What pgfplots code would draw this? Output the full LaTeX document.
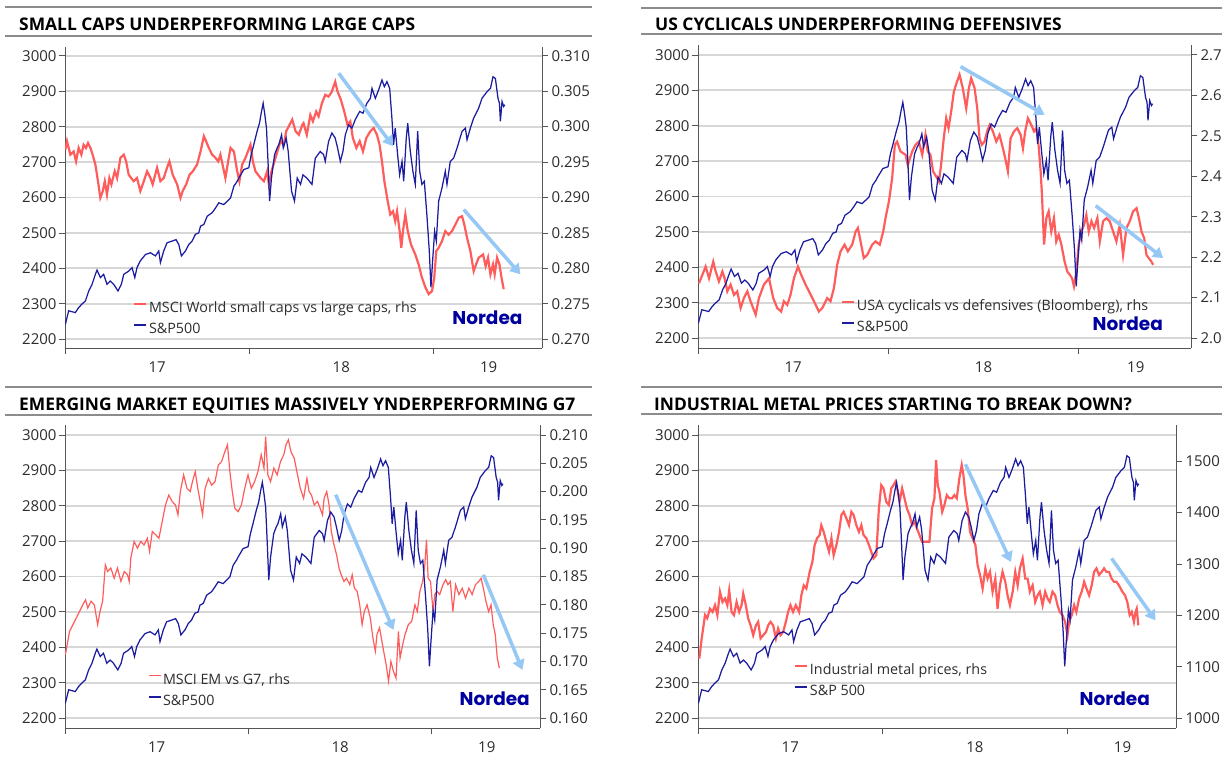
\documentclass[border=0pt]{standalone}
\usepackage{fontspec}
\setmainfont{Open Sans}
\newfontfamily\titlefont{Open Sans}
\newfontfamily\logofont{Poppins}
\usepackage{pgfplots}
\usepackage{pgfplotstable}
\pgfplotsset{compat=1.18}
\usetikzlibrary{arrows.meta}

\definecolor{spblue}{RGB}{28,28,160}
\definecolor{ratiored}{RGB}{255,92,92}
\definecolor{arrowblue}{RGB}{150,200,245}
\definecolor{gridgray}{RGB}{215,215,215}
\definecolor{axgray}{RGB}{85,85,85}
\definecolor{txtgray}{RGB}{45,45,45}
\definecolor{rulegray}{RGB}{140,140,140}
\definecolor{nordeablue}{RGB}{0,0,160}

% S&P 500 (shared by all panels)
\pgfplotstableread{
t v
2017.002 2242
2017.020 2280
2017.056 2275
2017.074 2289
2017.092 2299
2017.111 2308
2017.129 2336
2017.147 2355
2017.165 2383
2017.174 2395
2017.192 2374
2017.210 2383
2017.228 2355
2017.246 2364
2017.264 2355
2017.288 2336
2017.306 2355
2017.319 2383
2017.346 2392
2017.364 2402
2017.379 2374
2017.391 2402
2017.409 2421
2017.437 2439
2017.464 2444
2017.491 2435
2017.509 2449
2017.518 2416
2017.536 2449
2017.554 2472
2017.582 2477
2017.603 2481
2017.618 2467
2017.632 2435
2017.654 2449
2017.672 2467
2017.690 2477
2017.708 2496
2017.726 2500
2017.736 2519
2017.754 2524
2017.772 2547
2017.799 2557
2017.817 2570
2017.835 2585
2017.862 2580
2017.880 2589
2017.899 2599
2017.917 2632
2017.935 2646
2017.944 2655
2017.971 2679
2017.998 2684
2018.011 2721
2018.025 2749
2018.043 2787
2018.056 2810
2018.067 2843
2018.076 2866
2018.085 2834
2018.094 2796
2018.103 2693
2018.111 2590
2018.121 2655
2018.138 2721
2018.152 2740
2018.161 2749
2018.176 2777
2018.185 2740
2018.201 2768
2018.212 2730
2018.230 2618
2018.246 2590
2018.261 2655
2018.279 2637
2018.292 2664
2018.313 2655
2018.341 2637
2018.359 2711
2018.386 2730
2018.404 2721
2018.413 2702
2018.431 2758
2018.449 2782
2018.467 2768
2018.480 2740
2018.495 2702
2018.509 2730
2018.522 2777
2018.540 2805
2018.558 2796
2018.576 2820
2018.600 2843
2018.618 2838
2018.639 2866
2018.658 2880
2018.667 2908
2018.685 2880
2018.703 2904
2018.721 2932
2018.734 2913
2018.748 2927
2018.763 2908
2018.775 2824
2018.784 2749
2018.793 2796
2018.806 2721
2018.817 2664
2018.830 2702
2018.839 2646
2018.853 2768
2018.861 2810
2018.875 2730
2018.889 2674
2018.902 2637
2018.915 2787
2018.926 2674
2018.938 2637
2018.951 2646
2018.966 2543
2018.978 2449
2018.987 2346
2018.996 2421
2019.007 2505
2019.016 2477
2019.029 2590
2019.047 2627
2019.065 2674
2019.074 2637
2019.092 2702
2019.110 2711
2019.129 2740
2019.156 2787
2019.174 2796
2019.183 2763
2019.201 2796
2019.219 2824
2019.246 2852
2019.264 2880
2019.292 2899
2019.310 2908
2019.324 2941
2019.337 2936
2019.351 2880
2019.359 2866
2019.364 2815
2019.373 2871
2019.382 2857
2019.388 2862
}\spx

% MSCI World small caps vs large caps (rhs)
\pgfplotstableread{
t r
2017.002 0.29675
2017.011 0.29795
2017.029 0.29605
2017.047 0.29650
2017.060 0.29510
2017.074 0.29700
2017.089 0.29605
2017.101 0.29745
2017.114 0.29700
2017.125 0.29770
2017.138 0.29700
2017.150 0.29605
2017.165 0.29465
2017.179 0.29230
2017.192 0.28995
2017.205 0.29090
2017.216 0.29230
2017.228 0.29040
2017.241 0.29275
2017.252 0.29185
2017.270 0.29370
2017.283 0.29275
2017.301 0.29560
2017.319 0.29605
2017.332 0.29510
2017.346 0.29320
2017.373 0.29230
2017.391 0.29275
2017.409 0.29090
2017.428 0.29230
2017.446 0.29370
2017.464 0.29275
2017.476 0.29185
2017.500 0.29420
2017.518 0.29230
2017.536 0.29275
2017.554 0.29420
2017.567 0.29510
2017.585 0.29320
2017.609 0.29185
2017.627 0.28995
2017.639 0.29090
2017.658 0.29185
2017.676 0.29320
2017.694 0.29370
2017.717 0.29465
2017.736 0.29650
2017.754 0.29865
2017.766 0.29795
2017.781 0.29700
2017.799 0.29605
2017.817 0.29560
2017.832 0.29510
2017.844 0.29605
2017.871 0.29275
2017.889 0.29560
2017.899 0.29700
2017.917 0.29650
2017.935 0.29370
2017.947 0.29230
2017.962 0.29465
2017.980 0.29560
2018.007 0.29745
2018.020 0.29510
2018.034 0.29370
2018.062 0.29275
2018.080 0.29230
2018.098 0.29370
2018.107 0.29185
2018.121 0.29370
2018.143 0.29560
2018.170 0.29795
2018.188 0.29745
2018.201 0.29935
2018.219 0.30025
2018.234 0.30100
2018.252 0.29935
2018.270 0.29885
2018.288 0.30025
2018.295 0.30050
2018.313 0.29885
2018.332 0.30165
2018.346 0.30075
2018.364 0.30215
2018.377 0.30145
2018.395 0.30330
2018.413 0.30450
2018.431 0.30425
2018.449 0.30495
2018.467 0.30635
2018.480 0.30495
2018.498 0.30380
2018.516 0.30215
2018.534 0.30025
2018.549 0.30075
2018.563 0.29840
2018.582 0.29700
2018.600 0.29795
2018.618 0.29650
2018.636 0.29840
2018.658 0.29935
2018.676 0.29980
2018.694 0.29885
2018.708 0.29745
2018.721 0.29510
2018.734 0.29230
2018.752 0.28950
2018.766 0.28760
2018.781 0.28805
2018.793 0.28665
2018.803 0.28805
2018.817 0.28525
2018.826 0.28290
2018.835 0.28525
2018.848 0.28760
2018.861 0.28525
2018.879 0.28335
2018.902 0.28195
2018.920 0.28055
2018.938 0.27870
2018.957 0.27730
2018.975 0.27635
2018.993 0.27680
2019.005 0.27870
2019.016 0.28245
2019.029 0.28290
2019.047 0.28385
2019.065 0.28525
2019.083 0.28475
2019.101 0.28525
2019.120 0.28620
2019.138 0.28715
2019.156 0.28735
2019.168 0.28620
2019.183 0.28430
2019.201 0.28245
2019.219 0.27960
2019.232 0.28055
2019.246 0.28150
2019.270 0.28195
2019.284 0.28030
2019.297 0.28150
2019.310 0.27915
2019.324 0.28055
2019.333 0.27915
2019.346 0.28150
2019.359 0.28055
2019.370 0.27870
2019.382 0.27705
}\tlred

% USA cyclicals vs defensives (rhs)
\pgfplotstableread{
t r
2017.005 2.1356
2017.023 2.1566
2017.040 2.1768
2017.058 2.1479
2017.080 2.1890
2017.093 2.1645
2017.110 2.1400
2017.128 2.1645
2017.140 2.1479
2017.154 2.1155
2017.171 2.1321
2017.189 2.1068
2017.206 2.1155
2017.224 2.0744
2017.241 2.0989
2017.259 2.1155
2017.276 2.0910
2017.303 2.0578
2017.320 2.0989
2017.346 2.1321
2017.373 2.1479
2017.395 2.0989
2017.416 2.0744
2017.437 2.0656
2017.451 2.0910
2017.469 2.0823
2017.486 2.1068
2017.504 2.1479
2017.525 2.1768
2017.542 2.1566
2017.565 2.1321
2017.583 2.1155
2017.609 2.0910
2017.635 2.0656
2017.653 2.0744
2017.679 2.0989
2017.696 2.0910
2017.714 2.1234
2017.731 2.1811
2017.749 2.2144
2017.770 2.2310
2017.787 2.2144
2017.810 2.2310
2017.828 2.2634
2017.840 2.2721
2017.854 2.2389
2017.871 2.1978
2017.889 2.2056
2017.915 2.2310
2017.933 2.2389
2017.955 2.2310
2017.973 2.2634
2017.985 2.2966
2018.003 2.3378
2018.020 2.3955
2018.034 2.4778
2018.046 2.4856
2018.064 2.4611
2018.090 2.4533
2018.102 2.4279
2018.125 2.4611
2018.143 2.4778
2018.160 2.4856
2018.178 2.4533
2018.195 2.5023
2018.207 2.4611
2018.221 2.4533
2018.235 2.4121
2018.256 2.3955
2018.266 2.3868
2018.277 2.4279
2018.291 2.4935
2018.304 2.5434
2018.316 2.5189
2018.330 2.5600
2018.344 2.6090
2018.361 2.6344
2018.374 2.6510
2018.391 2.6178
2018.409 2.5679
2018.423 2.6178
2018.435 2.6423
2018.453 2.6178
2018.467 2.5679
2018.479 2.4935
2018.491 2.4778
2018.505 2.4856
2018.519 2.5110
2018.532 2.5268
2018.549 2.5110
2018.567 2.4856
2018.584 2.5023
2018.602 2.4690
2018.614 2.4445
2018.628 2.4121
2018.642 2.4935
2018.660 2.5110
2018.677 2.5189
2018.695 2.5023
2018.707 2.4690
2018.719 2.5110
2018.733 2.5434
2018.751 2.5268
2018.765 2.5110
2018.777 2.5189
2018.789 2.4778
2018.800 2.4121
2018.807 2.3544
2018.818 2.2310
2018.830 2.2966
2018.842 2.3133
2018.856 2.2634
2018.870 2.2966
2018.882 2.2389
2018.895 2.2555
2018.909 2.2310
2018.926 2.1890
2018.940 2.1645
2018.953 2.1566
2018.965 2.1479
2018.975 2.1278
2018.988 2.1645
2019.000 2.2310
2019.014 2.2634
2019.028 2.2800
2019.040 2.3045
2019.053 2.2634
2019.067 2.2888
2019.081 2.2721
2019.098 2.2966
2019.111 2.2389
2019.128 2.2888
2019.146 2.2966
2019.163 2.2888
2019.181 2.2634
2019.198 2.2389
2019.216 2.2800
2019.233 2.2056
2019.251 2.2721
2019.268 2.2888
2019.286 2.3133
2019.304 2.3211
2019.316 2.2966
2019.330 2.2634
2019.344 2.2468
2019.356 2.2056
2019.368 2.1978
2019.382 2.1890
2019.391 2.1811
}\trred

% MSCI EM vs G7 (rhs)
\pgfplotstableread{
t r
2017.002 0.17119
2017.025 0.17531
2017.043 0.17650
2017.061 0.17763
2017.079 0.17881
2017.097 0.18000
2017.112 0.18088
2017.124 0.17944
2017.142 0.18063
2017.160 0.18000
2017.178 0.17650
2017.191 0.17881
2017.205 0.18063
2017.220 0.18706
2017.232 0.18588
2017.250 0.18650
2017.268 0.18469
2017.286 0.18650
2017.305 0.18413
2017.323 0.18588
2017.341 0.18531
2017.350 0.18413
2017.359 0.18825
2017.377 0.19119
2017.395 0.19000
2017.413 0.19119
2017.431 0.19056
2017.449 0.19175
2017.461 0.18944
2017.476 0.19294
2017.494 0.19238
2017.512 0.19175
2017.530 0.19469
2017.548 0.19763
2017.566 0.19938
2017.584 0.19825
2017.602 0.19763
2017.616 0.19588
2017.629 0.20000
2017.647 0.20294
2017.665 0.20056
2017.683 0.20000
2017.695 0.20175
2017.710 0.20350
2017.724 0.20056
2017.737 0.19825
2017.750 0.19588
2017.764 0.20056
2017.782 0.20231
2017.800 0.20113
2017.818 0.20175
2017.836 0.20469
2017.854 0.20531
2017.872 0.20706
2017.886 0.20825
2017.899 0.20350
2017.912 0.20000
2017.926 0.19706
2017.944 0.19644
2017.962 0.19763
2017.980 0.20056
2017.998 0.20294
2018.016 0.20056
2018.034 0.20175
2018.052 0.20350
2018.070 0.20650
2018.085 0.20413
2018.094 0.20969
2018.106 0.20294
2018.121 0.20175
2018.139 0.20413
2018.157 0.20294
2018.175 0.20531
2018.193 0.20650
2018.205 0.20825
2018.218 0.20913
2018.232 0.20706
2018.250 0.20588
2018.268 0.20294
2018.283 0.20056
2018.301 0.19881
2018.319 0.20231
2018.331 0.20000
2018.344 0.19938
2018.359 0.19763
2018.377 0.19825
2018.391 0.19706
2018.404 0.19588
2018.413 0.19881
2018.427 0.20000
2018.440 0.19763
2018.452 0.19294
2018.467 0.19056
2018.481 0.18881
2018.494 0.18650
2018.506 0.18531
2018.521 0.18413
2018.535 0.18469
2018.553 0.18356
2018.566 0.18531
2018.578 0.18294
2018.593 0.18238
2018.607 0.18000
2018.620 0.17650
2018.632 0.17881
2018.647 0.18000
2018.665 0.17763
2018.679 0.17413
2018.692 0.17181
2018.701 0.17475
2018.715 0.17594
2018.728 0.17356
2018.741 0.17119
2018.751 0.16944
2018.764 0.16650
2018.777 0.17000
2018.791 0.16825
2018.805 0.16706
2018.818 0.17531
2018.827 0.17063
2018.841 0.17294
2018.854 0.17475
2018.872 0.17650
2018.890 0.17706
2018.908 0.18000
2018.921 0.17881
2018.935 0.18238
2018.950 0.18413
2018.962 0.18706
2018.971 0.19150
2018.980 0.18469
2018.993 0.18413
2019.007 0.17881
2019.016 0.18181
2019.029 0.18238
2019.043 0.18181
2019.061 0.18356
2019.076 0.18444
2019.088 0.18356
2019.101 0.18413
2019.115 0.17881
2019.130 0.18356
2019.148 0.18181
2019.166 0.18294
2019.184 0.18119
2019.202 0.18294
2019.220 0.18181
2019.238 0.18356
2019.256 0.18413
2019.269 0.18469
2019.281 0.18294
2019.295 0.18063
2019.310 0.17881
2019.323 0.18000
2019.335 0.17650
2019.346 0.17475
2019.357 0.17063
2019.368 0.16881
}\blred

% Industrial metal prices (rhs)
\pgfplotstableread{
t r
2017.007 1115.7
2017.020 1155.0
2017.038 1200.4
2017.050 1194.2
2017.065 1212.8
2017.079 1206.6
2017.092 1219.7
2017.105 1200.4
2017.119 1245.9
2017.133 1225.9
2017.146 1232.8
2017.159 1219.7
2017.169 1248.6
2017.182 1206.6
2017.195 1200.4
2017.209 1225.9
2017.223 1206.6
2017.236 1219.7
2017.245 1242.4
2017.259 1219.7
2017.272 1193.5
2017.285 1180.5
2017.299 1161.2
2017.314 1180.5
2017.326 1187.3
2017.339 1155.0
2017.353 1161.2
2017.368 1167.4
2017.380 1180.5
2017.393 1187.3
2017.407 1180.5
2017.422 1155.0
2017.434 1174.3
2017.447 1161.2
2017.461 1167.4
2017.476 1187.3
2017.488 1206.6
2017.501 1219.7
2017.515 1206.6
2017.530 1219.7
2017.548 1206.6
2017.560 1239.0
2017.573 1258.3
2017.587 1252.1
2017.605 1284.5
2017.620 1304.4
2017.632 1336.8
2017.645 1349.9
2017.659 1356.1
2017.668 1375.4
2017.681 1362.3
2017.695 1343.0
2017.710 1323.7
2017.723 1349.9
2017.735 1316.8
2017.750 1336.8
2017.764 1362.3
2017.777 1395.3
2017.789 1401.5
2017.804 1388.5
2017.818 1375.4
2017.831 1401.5
2017.843 1395.3
2017.858 1375.4
2017.872 1362.3
2017.885 1375.4
2017.897 1356.1
2017.912 1349.9
2017.926 1336.8
2017.939 1323.7
2017.951 1310.6
2017.966 1316.8
2017.980 1407.7
2017.993 1453.2
2018.005 1447.0
2018.020 1420.8
2018.034 1414.6
2018.047 1447.0
2018.059 1453.2
2018.070 1460.1
2018.083 1440.8
2018.092 1420.8
2018.106 1447.0
2018.119 1427.7
2018.132 1407.7
2018.146 1395.3
2018.160 1375.4
2018.173 1382.3
2018.186 1369.2
2018.200 1356.1
2018.214 1343.0
2018.227 1343.0
2018.240 1343.0
2018.254 1343.0
2018.268 1407.7
2018.281 1427.7
2018.290 1502.1
2018.299 1453.2
2018.308 1440.8
2018.323 1401.5
2018.335 1414.6
2018.348 1433.9
2018.362 1427.7
2018.377 1427.7
2018.389 1433.9
2018.402 1427.7
2018.416 1466.3
2018.429 1492.5
2018.438 1473.2
2018.449 1433.9
2018.461 1407.7
2018.474 1362.3
2018.488 1349.9
2018.503 1336.8
2018.515 1297.5
2018.528 1278.3
2018.542 1252.1
2018.557 1291.3
2018.569 1271.4
2018.582 1284.5
2018.596 1245.9
2018.611 1271.4
2018.623 1212.8
2018.636 1258.3
2018.650 1284.5
2018.665 1265.2
2018.677 1239.0
2018.690 1219.7
2018.705 1245.9
2018.719 1284.5
2018.732 1258.3
2018.744 1291.3
2018.759 1310.6
2018.773 1271.4
2018.786 1271.4
2018.798 1245.9
2018.813 1258.3
2018.827 1225.9
2018.840 1239.0
2018.852 1245.9
2018.867 1219.7
2018.881 1245.9
2018.894 1232.8
2018.906 1225.9
2018.921 1245.9
2018.935 1239.0
2018.948 1219.7
2018.960 1206.6
2018.975 1200.4
2018.989 1187.3
2019.002 1161.2
2019.011 1187.3
2019.025 1200.4
2019.038 1219.7
2019.050 1206.6
2019.065 1232.8
2019.079 1245.9
2019.092 1265.2
2019.105 1252.1
2019.119 1239.0
2019.133 1258.3
2019.146 1284.5
2019.159 1291.3
2019.173 1278.3
2019.187 1284.5
2019.200 1291.3
2019.213 1284.5
2019.227 1284.5
2019.241 1271.4
2019.254 1265.2
2019.267 1265.2
2019.281 1258.3
2019.299 1245.9
2019.314 1239.0
2019.326 1225.9
2019.339 1200.4
2019.350 1206.6
2019.362 1187.3
2019.371 1206.6
2019.377 1212.8
2019.386 1180.5
}\brred

\tikzset{trend/.style={draw=arrowblue, line width=3.5pt,
    -{Triangle[length=10pt,width=12pt]}}}

\pgfplotsset{
  base/.style={
    scale only axis, xmin=2017, xmax=2019.59,
    /pgf/number format/assume math mode=true,
    /pgf/number format/1000 sep={},
    tick label style={font=\fontsize{15}{17}\selectfont, text=txtgray},
    tick align=outside, major tick length=6pt,
    tick style={axgray, line width=0.8pt},
    axis line style={axgray, line width=0.9pt},
    minor tick num=0,
  },
  leftax/.style={base,
    axis x line*=bottom, axis y line*=left,
    ytick={2200,2300,2400,2500,2600,2700,2800,2900,3000},
    ymajorgrids, grid style={gridgray, line width=1.8pt},
    xtick={2017,2018,2019}, xticklabels={,,},
    extra x ticks={2017.5,2018.5,2019.3},
    extra x tick labels={17,18,19},
    extra x tick style={major tick length=0pt, grid=none},
    xticklabel style={yshift=-10pt},
    yticklabel style={xshift=1pt},
  },
  rightax/.style={base,
    axis y line*=right, axis x line=none,
  },
  overax/.style={base, hide axis,
    legend style={draw=none, fill=none, anchor=north west,
      font=\fontsize{14.3}{16}\selectfont, text=txtgray,
      inner sep=0pt, row sep=5pt,
      nodes={inner sep=1.6pt, text height=10pt, text depth=3pt}},
    legend cell align=left,
    legend image code/.code={\draw[##1] (0pt,5pt) -- (12pt,5pt);},
  },
}

\begin{document}
\begin{tikzpicture}
\useasboundingbox (0,0) rectangle (1222pt,760pt);

% ---------- titles and rules ----------
\draw[rulegray, line width=1.2pt] (5pt,753pt) -- (592pt,753pt);
\draw[rulegray, line width=1.2pt] (5pt,724pt) -- (592pt,724pt);
\node[anchor=base west, inner sep=0pt, text=black, font=\titlefont\bfseries\fontsize{17.4}{20}\selectfont] at (19pt,729pt) {SMALL CAPS UNDERPERFORMING LARGE CAPS};

\draw[rulegray, line width=1.2pt] (641pt,752pt) -- (1222pt,752pt);
\draw[rulegray, line width=1.2pt] (641pt,726pt) -- (1222pt,726pt);
\node[anchor=base west, inner sep=0pt, text=black, font=\titlefont\bfseries\fontsize{17.4}{20}\selectfont] at (655pt,729pt) {US CYCLICALS UNDERPERFORMING DEFENSIVES};

\draw[rulegray, line width=1.2pt] (5pt,373pt) -- (592pt,373pt);
\draw[rulegray, line width=1.2pt] (5pt,345pt) -- (592pt,345pt);
\node[anchor=base west, inner sep=0pt, text=black, font=\titlefont\bfseries\fontsize{17.4}{20}\selectfont] at (19pt,349pt) {EMERGING MARKET EQUITIES MASSIVELY YNDERPERFORMING G7};

\draw[rulegray, line width=1.2pt] (641pt,373pt) -- (1222pt,373pt);
\draw[rulegray, line width=1.2pt] (641pt,346pt) -- (1222pt,346pt);
\node[anchor=base west, inner sep=0pt, text=black, font=\titlefont\bfseries\fontsize{17.4}{20}\selectfont] at (654pt,349pt) {INDUSTRIAL METAL PRICES STARTING TO BREAK DOWN?};

% ================= TOP LEFT =================
\begin{axis}[leftax, at={(65pt,412pt)}, anchor=south west, width=477pt, height=301pt, ymin=2175, ymax=3025]
\end{axis}
\begin{axis}[rightax, at={(65pt,412pt)}, anchor=south west, width=477pt, height=301pt, ymin=0.26875, ymax=0.31125,
  ytick={0.270,0.275,0.280,0.285,0.290,0.295,0.300,0.305,0.310},
  yticklabel style={/pgf/number format/fixed, /pgf/number format/fixed zerofill, /pgf/number format/precision=3}]
\addplot[ratiored, line width=2.2pt] table[x=t, y=r] {\tlred};
\end{axis}
\begin{axis}[overax, at={(65pt,412pt)}, anchor=south west, width=477pt, height=301pt, ymin=2175, ymax=3025,
  legend style={at={(axis description cs:0.1426,0.158)}}]
\addlegendimage{ratiored, line width=2.2pt}
\addlegendentry{MSCI World small caps vs large caps, rhs}
\addplot[spblue, line width=1.25pt] table[x=t, y=v] {\spx};
\addlegendentry{S\&P500}
\draw[trend] (axis cs:2018.486,2951) -- (axis cs:2018.781,2745);
\draw[trend] (axis cs:2019.165,2566) -- (axis cs:2019.473,2383);
\node[anchor=base east, inner sep=0pt, text=nordeablue, font=\logofont\bfseries\fontsize{18.5}{20}\selectfont] at (rel axis cs:0.9595,0.0764) {Nordea};
\end{axis}

% ================= TOP RIGHT =================
\begin{axis}[leftax, at={(698pt,412pt)}, anchor=south west, width=493pt, height=303pt, ymin=2172, ymax=3028]
\end{axis}
\begin{axis}[rightax, at={(698pt,412pt)}, anchor=south west, width=493pt, height=303pt, ymin=1.9755, ymax=2.7245,
  ytick={2.0,2.1,2.2,2.3,2.4,2.5,2.6,2.7},
  yticklabel style={/pgf/number format/fixed, /pgf/number format/fixed zerofill, /pgf/number format/precision=1}]
\addplot[ratiored, line width=2.2pt] table[x=t, y=r] {\trred};
\end{axis}
\begin{axis}[overax, at={(698pt,412pt)}, anchor=south west, width=493pt, height=303pt, ymin=2172, ymax=3028,
  legend style={at={(axis description cs:0.290,0.1637)}}]
\addlegendimage{ratiored, line width=2.2pt}
\addlegendentry{USA cyclicals vs defensives (Bloomberg), rhs}
\addplot[spblue, line width=1.25pt] table[x=t, y=v] {\spx};
\addlegendentry{S\&P500}
\draw[trend] (axis cs:2018.379,2967) -- (axis cs:2018.821,2831);
\draw[trend] (axis cs:2019.089,2574) -- (axis cs:2019.444,2426);
\node[anchor=base east, inner sep=0pt, text=nordeablue, font=\logofont\bfseries\fontsize{18.5}{20}\selectfont] at (rel axis cs:0.9432,0.0561) {Nordea};
\end{axis}

% ================= BOTTOM LEFT =================
\begin{axis}[leftax, at={(65pt,32pt)}, anchor=south west, width=475pt, height=303pt, ymin=2172, ymax=3028]
\end{axis}
\begin{axis}[rightax, at={(65pt,32pt)}, anchor=south west, width=475pt, height=303pt, ymin=0.15825, ymax=0.21175,
  ytick={0.160,0.165,0.170,0.175,0.180,0.185,0.190,0.195,0.200,0.205,0.210},
  yticklabel style={/pgf/number format/fixed, /pgf/number format/fixed zerofill, /pgf/number format/precision=3}]
\addplot[ratiored, line width=1.2pt] table[x=t, y=r] {\blred};
\end{axis}
\begin{axis}[overax, at={(65pt,32pt)}, anchor=south west, width=475pt, height=303pt, ymin=2172, ymax=3028,
  legend style={at={(axis description cs:0.1747,0.1835)}}]
\addlegendimage{ratiored, line width=1.2pt}
\addlegendentry{MSCI EM vs G7, rhs}
\addplot[spblue, line width=1.25pt] table[x=t, y=v] {\spx};
\addlegendentry{S\&P500}
\draw[trend] (axis cs:2018.476,2831) -- (axis cs:2018.791,2449);
\draw[trend] (axis cs:2019.281,2605) -- (axis cs:2019.494,2336);
\node[anchor=base east, inner sep=0pt, text=nordeablue, font=\logofont\bfseries\fontsize{18.5}{20}\selectfont] at (rel axis cs:0.9789,0.0759) {Nordea};
\end{axis}

% ================= BOTTOM RIGHT =================
\begin{axis}[leftax, at={(698pt,32pt)}, anchor=south west, width=478pt, height=303pt, ymin=2172, ymax=3028]
\end{axis}
\begin{axis}[rightax, at={(698pt,32pt)}, anchor=south west, width=478pt, height=303pt, ymin=980.7, ymax=1570.3,
  ytick={1000,1100,1200,1300,1400,1500}]
\addplot[ratiored, line width=2.2pt] table[x=t, y=r] {\brred};
\end{axis}
\begin{axis}[overax, at={(698pt,32pt)}, anchor=south west, width=478pt, height=303pt, ymin=2172, ymax=3028,
  legend style={at={(axis description cs:0.2008,0.2165)}}]
\addlegendimage{ratiored, line width=2.2pt}
\addlegendentry{Industrial metal prices, rhs}
\addplot[spblue, line width=1.25pt] table[x=t, y=v] {\spx};
\addlegendentry{S\&P 500}
\draw[trend] (axis cs:2018.449,2917) -- (axis cs:2018.696,2641);
\draw[trend] (axis cs:2019.241,2651) -- (axis cs:2019.479,2476);
\node[anchor=base east, inner sep=0pt, text=nordeablue, font=\logofont\bfseries\fontsize{18.5}{20}\selectfont] at (rel axis cs:0.9456,0.0759) {Nordea};
\end{axis}

\end{tikzpicture}
\end{document}
